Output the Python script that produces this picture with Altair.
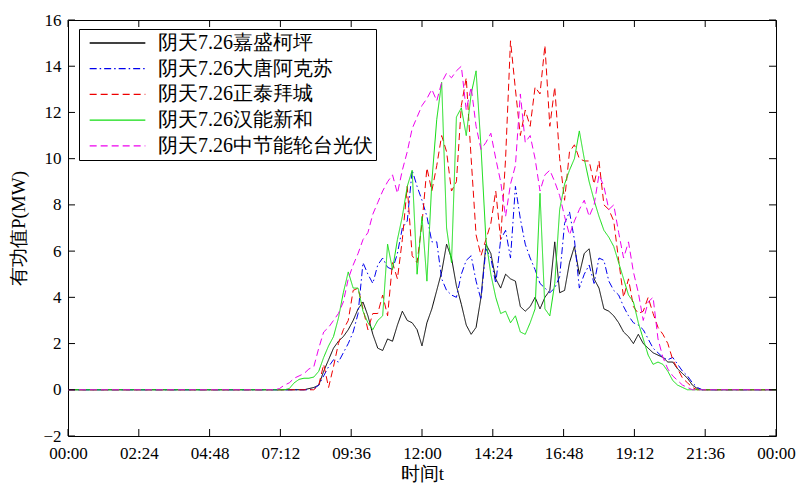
import altair as alt
import pandas as pd

# ---- data (10-minute samples, 07:00 .. 22:00) ----
hours_day = [7 + i / 6 for i in range(91)]
times = [0.0] + hours_day + [24.0]

series_names = ["阴天7.26嘉盛柯坪", "阴天7.26大唐阿克苏", "阴天7.26正泰拜城",
                "阴天7.26汉能新和", "阴天7.26中节能轮台光伏"]

black = [0,
    0, 0, 0, 0, 0, 0,
    0, 0.05, 0.1, 0.2, 0.8, 1.3,
    1.8, 2.1, 2.3, 2.6, 3.0, 3.5,
    3.8, 3.2, 2.4, 1.8, 1.7, 2.2,
    2.1, 2.8, 3.4, 3.0, 2.9, 2.6,
    1.9, 2.9, 3.5, 4.3, 5.1, 6.3,
    5.7, 4.5, 3.7, 2.8, 2.4, 2.7,
    4.0, 6.3, 5.9, 4.8, 4.4, 5.0,
    4.8, 4.7, 3.6, 3.4, 3.6, 4.0,
    3.5, 4.0, 4.3, 6.4, 4.2, 4.3,
    5.5, 6.2, 5.0, 5.9, 6.1, 4.8,
    4.4, 3.5, 3.4, 3.2, 2.9, 2.5,
    2.3, 2.0, 2.4, 2.0, 1.8, 1.6,
    1.5, 1.4, 1.2, 1.2, 0.9, 0.7,
    0.5, 0.2, 0.05, 0, 0, 0,
    0,
    0]

blue = [0,
    0, 0, 0, 0, 0, 0,
    0, 0, 0.05, 0.2, 0.6, 1.0,
    1.3, 1.2, 1.6, 2.0, 2.5, 3.3,
    5.5, 5.0, 4.6, 5.4, 5.7, 5.3,
    5.2, 5.9, 7.0, 7.3, 9.5, 8.8,
    8.2, 7.5, 6.4, 6.4, 4.8, 4.3,
    4.1, 4.0, 5.0, 5.6, 5.8, 4.7,
    3.9, 6.1, 5.7, 4.6, 6.5, 6.9,
    5.7, 8.8, 7.4, 6.3, 5.7, 5.2,
    4.6, 4.4, 4.2, 4.4, 4.9, 7.2,
    7.7, 6.5, 4.4, 5.0, 5.4, 4.6,
    5.7, 5.6, 4.7, 4.3, 4.1, 3.6,
    3.2, 2.9, 2.8, 2.6, 2.2, 1.8,
    1.6, 1.4, 1.3, 1.4, 1.1, 0.8,
    0.6, 0.3, 0.1, 0, 0, 0,
    0,
    0]

red = [0,
    0, 0, 0, 0, 0, 0,
    0, 0, 0, 0.2, 1.1, 0.1,
    1.0, 2.0, 2.6, 3.0, 4.3, 4.4,
    3.5, 2.6, 3.3, 3.3, 4.1, 3.2,
    5.5, 4.8, 6.5, 8.8, 5.8, 5.5,
    7.2, 9.6, 8.6, 9.7, 11.0, 10.3,
    8.6, 9.0, 12.3, 13.5, 10.0, 6.7,
    5.8, 6.5, 7.2, 8.6, 6.5, 10.0,
    15.1, 13.0, 11.0, 12.1, 11.4, 13.1,
    12.8, 14.9, 11.4, 13.1, 10.0, 8.2,
    10.3, 10.6, 10.0, 9.9, 9.9, 8.9,
    9.9, 8.0, 7.8, 7.3, 5.6, 4.0,
    4.8, 3.6, 3.3, 3.4, 4.0, 3.3,
    2.7, 2.4, 2.0, 1.3, 0.9, 0.5,
    0.3, 0.1, 0, 0, 0, 0,
    0,
    0]

green = [0,
    0, 0, 0, 0.05, 0.3, 0.45,
    0.5, 0.5, 0.55, 0.8, 1.4, 1.9,
    2.3, 3.1, 4.2, 5.1, 4.4, 4.4,
    3.4, 2.9, 2.6, 3.0, 3.2, 6.3,
    5.2, 6.5, 7.5, 8.8, 9.5, 5.0,
    7.5, 4.7, 9.0, 11.7, 13.3, 7.0,
    5.5, 11.8, 12.2, 11.0, 12.8, 13.8,
    10.5, 6.5, 5.0, 4.0, 3.3, 3.4,
    2.9, 3.2, 2.5, 2.4, 2.9, 3.5,
    8.5, 3.5, 3.2, 4.6, 7.8, 8.9,
    9.5, 10.0, 11.2, 10.0, 9.0, 8.2,
    7.5, 6.9, 6.6, 6.2, 5.5, 4.8,
    4.1, 3.8, 2.9, 2.2, 1.5, 1.1,
    1.2, 1.1, 0.8, 0.4, 0.2, 0.1,
    0, 0, 0, 0, 0, 0,
    0,
    0]

magenta = [0,
    0, 0.05, 0.2, 0.3, 0.5, 0.6,
    0.7, 0.9, 1.0, 1.8, 2.5, 2.7,
    3.0, 3.3, 3.8, 4.8, 5.4, 5.9,
    6.5, 6.8, 7.6, 8.1, 8.6, 9.0,
    9.3, 8.5, 9.5, 10.3, 11.3, 11.8,
    12.3, 12.6, 13.0, 12.5, 13.3, 13.7,
    13.5, 13.8, 14.0, 12.1, 13.1, 11.4,
    10.4, 10.7, 11.1, 10.0, 9.0, 7.5,
    8.9, 9.7, 12.8, 10.7, 11.0, 10.0,
    8.6, 9.3, 9.5, 9.0, 8.4, 7.5,
    6.7, 7.3, 7.8, 8.2, 7.5, 8.0,
    9.3, 8.8, 7.8, 8.0, 6.8, 5.7,
    6.4, 5.1, 4.2, 3.0, 3.8, 4.0,
    2.2, 1.4, 0.9, 0.6, 0.4, 0.2,
    0.1, 0, 0, 0, 0, 0,
    0,
    0]

x_ticks = [0, 2.4, 4.8, 7.2, 9.6, 12, 14.4, 16.8, 19.2, 21.6, 24]
y_ticks = [-2, 0, 2, 4, 6, 8, 10, 12, 14, 16]

colors = ["#000000", "#0000ee", "#ee0000", "#11dd11", "#ee00ee"]
dashes = [[1, 0], [7, 3, 1.5, 3], [7, 4], [1, 0], [7, 4]]

# ---- build table ----
rows = []
for name, vals in zip(series_names, [black, blue, red, green, magenta]):
    for t, v in zip(times, vals):
        rows.append({"t": t, "P": v, "s": name})
df = pd.DataFrame(rows)

W, H = 708, 416
SERIF = "Liberation Serif"

xscale = alt.Scale(domain=[0, 24], nice=False, zero=False)
yscale = alt.Scale(domain=[-2, 16], nice=False, zero=False)

x_axis = alt.Axis(values=x_ticks, ticks=False, domain=False, grid=False,
                  labelExpr="timeFormat(datetime(2020, 6, 26, 0, round(datum.value * 60)), '%H:%M')",
                  labelFont=SERIF, labelFontSize=17, labelColor="black",
                  labelPadding=9, labelFlush=False, labelOverlap=False,
                  titleFont=SERIF, titleFontSize=19, titleFontWeight="normal",
                  titleColor="black", titlePadding=3)
y_axis = alt.Axis(values=y_ticks, ticks=False, domain=False, grid=False,
                  labelFont=SERIF, labelFontSize=17, labelColor="black",
                  labelPadding=7, labelFlush=False, labelOverlap=False,
                  titleFont=SERIF, titleFontSize=19, titleFontWeight="normal",
                  titleColor="black", titlePadding=14)
X_TITLE = "时间t"
Y_TITLE = "有功值P(MW)"

legend = alt.Legend(
    title=None, orient="none", legendX=11, legendY=9,
    symbolType="stroke", symbolSize=3100, symbolStrokeWidth=1.3,
    clipHeight=22, rowPadding=3.7, padding=3,
    symbolOffset=7, labelOffset=12,
    labelFont=SERIF, labelFontSize=20, labelColor="black", labelLimit=400,
    strokeColor="black", fillColor="white",
)

lines = alt.Chart(df).mark_line(strokeWidth=1, clip=True).encode(
    x=alt.X("t:Q", scale=xscale, title=X_TITLE, axis=x_axis),
    y=alt.Y("P:Q", scale=yscale, title=Y_TITLE, axis=y_axis),
    color=alt.Color("s:N", scale=alt.Scale(domain=series_names, range=colors), legend=legend),
    strokeDash=alt.StrokeDash("s:N", scale=alt.Scale(domain=series_names, range=dashes), legend=legend),
)

# inward tick marks (MATLAB style box)
ydf = pd.DataFrame({"P": y_ticks})
xdf = pd.DataFrame({"t": x_ticks})
tick_style = dict(color="black", strokeWidth=1)
yt_left = alt.Chart(ydf).mark_rule(**tick_style).encode(
    y=alt.Y("P:Q", scale=yscale, title=Y_TITLE, axis=y_axis), x=alt.value(0), x2=alt.value(7))
yt_right = alt.Chart(ydf).mark_rule(**tick_style).encode(
    y=alt.Y("P:Q", scale=yscale, title=Y_TITLE, axis=y_axis), x=alt.value(W - 7), x2=alt.value(W))
xt_bottom = alt.Chart(xdf).mark_rule(**tick_style).encode(
    x=alt.X("t:Q", scale=xscale, title=X_TITLE, axis=x_axis), y=alt.value(H - 7), y2=alt.value(H))
xt_top = alt.Chart(xdf).mark_rule(**tick_style).encode(
    x=alt.X("t:Q", scale=xscale, title=X_TITLE, axis=x_axis), y=alt.value(0), y2=alt.value(7))

chart = alt.layer(lines, yt_left, yt_right, xt_bottom, xt_top).properties(
    width=W, height=H,
    autosize=alt.AutoSizeParams(type="none"),
    padding={"left": 60, "top": 12, "right": 24, "bottom": 50},
    background="white",
).configure_view(stroke="black", strokeWidth=1)

chart.save("out.html", embed_options={"renderer": "svg", "actions": False})
